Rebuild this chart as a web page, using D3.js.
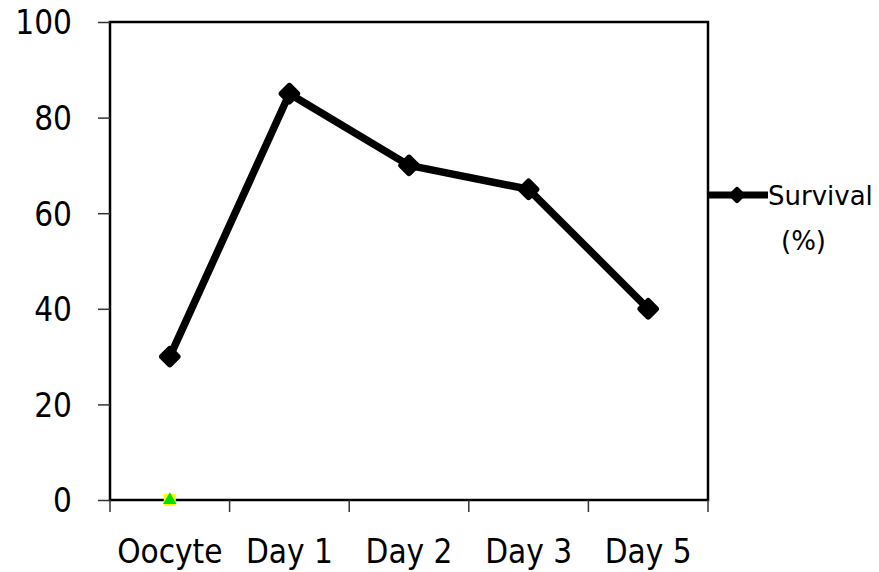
<!DOCTYPE html>
<html><head><meta charset="utf-8">
<script src="https://cdn.jsdelivr.net/npm/d3@7"></script>
<style>body{margin:0;background:#fff}svg{display:block}</style>
</head><body>
<script>
const categories = ["Oocyte", "Day 1", "Day 2", "Day 3", "Day 5"];
const survival = [30, 85, 70, 65, 40];
const secondCategory = ["Oocyte"];
const secondValues = [0];
const yTicks = [0, 20, 40, 60, 80, 100];
const seriesName = ["Survival", "(%)"];

const W = 879, H = 572;
const m = {left: 110, top: 22, right: 708, bottom: 500};
const axisFont = "DejaVu Sans Condensed, DejaVu Sans, sans-serif";
const legFont = "DejaVu Sans, Verdana, sans-serif";

const svg = d3.select("body").append("svg").attr("width", W).attr("height", H);

const x = d3.scaleBand().domain(categories).range([m.left, m.right]).padding(0);
const y = d3.scaleLinear().domain([0, 100]).range([m.bottom, m.top]);

// plot box
svg.append("rect").attr("x", m.left).attr("y", m.top)
  .attr("width", m.right - m.left).attr("height", m.bottom - m.top)
  .attr("fill", "none").attr("stroke", "#000").attr("stroke-width", 2.5);

// y axis
const yAxis = svg.append("g").attr("transform", `translate(${m.left},0)`)
  .call(d3.axisLeft(y).tickValues(yTicks).tickSize(12).tickPadding(26));
yAxis.select(".domain").remove();
yAxis.selectAll("line").attr("stroke", "#333").attr("stroke-width", 1.5);
yAxis.selectAll("text").attr("font-family", axisFont).attr("font-size", 33)
  .attr("fill", "#000").attr("dy", "0.36em");

// x axis ticks at band boundaries
const boundaries = categories.map(c => x(c)).concat([m.right]);
svg.append("g").selectAll("line").data(boundaries).join("line")
  .attr("x1", d => d).attr("x2", d => d)
  .attr("y1", m.bottom).attr("y2", m.bottom + 12)
  .attr("stroke", "#333").attr("stroke-width", 1.5);
svg.append("g").selectAll("text").data(categories).join("text")
  .attr("x", d => x(d) + x.bandwidth() / 2).attr("y", m.bottom + 63)
  .attr("text-anchor", "middle")
  .attr("font-family", axisFont).attr("font-size", 33).attr("fill", "#000")
  .text(d => d);

// line
const cx = d => x(d) + x.bandwidth() / 2;
const line = d3.line().x((d, i) => cx(categories[i])).y(d => y(d));
svg.append("path").datum(survival).attr("d", line)
  .attr("fill", "none").attr("stroke", "#000").attr("stroke-width", 7.5)
  .attr("stroke-linejoin", "round");

const marker = d3.symbol().type(d3.symbolSquare).size(120);
svg.append("g").selectAll("path").data(survival).join("path")
  .attr("transform", (d, i) => `translate(${cx(categories[i])},${y(d)}) rotate(45)`)
  .attr("d", marker).attr("fill", "#000").attr("stroke", "#000")
  .attr("stroke-width", 6).attr("stroke-linejoin", "round");

// second tiny series marker
const g2 = svg.append("g");
secondValues.forEach((v, i) => {
  const px = cx(secondCategory[i]), py = y(v);
  g2.append("rect").attr("x", px - 6).attr("y", py - 6).attr("width", 12).attr("height", 12).attr("fill", "#ffff00");
  g2.append("path").attr("transform", `translate(${px},${py})`)
    .attr("d", d3.symbol().type(d3.symbolTriangle).size(80)()).attr("fill", "#00e000");
});

// legend
const ly = 195;
svg.append("line").attr("x1", 709).attr("x2", 768).attr("y1", ly).attr("y2", ly)
  .attr("stroke", "#000").attr("stroke-width", 7);
svg.append("path").attr("transform", `translate(737,${ly}) rotate(45)`)
  .attr("d", d3.symbol().type(d3.symbolSquare).size(60)).attr("fill", "#000").attr("stroke", "#000")
  .attr("stroke-width", 5).attr("stroke-linejoin", "round");
svg.append("g").selectAll("text").data(seriesName).join("text")
  .attr("x", (d, i) => i === 0 ? 768 : 781).attr("y", (d, i) => i === 0 ? 205 : 250)
  .attr("font-family", legFont).attr("font-size", 26).attr("fill", "#000")
  .text(d => d);
</script>
</body></html>
